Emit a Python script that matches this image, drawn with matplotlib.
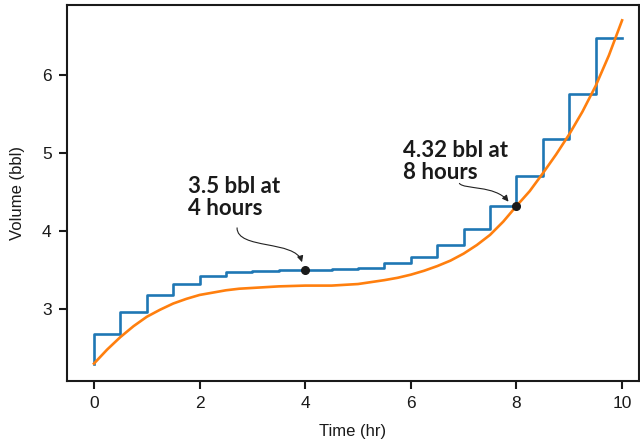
import numpy as np
import matplotlib.pyplot as plt
from matplotlib.patches import FancyArrowPatch
from matplotlib.path import Path

plt.rcParams['font.family'] = ['Liberation Sans', 'DejaVu Sans']

# orange curve
t_curve = [0, 0.25, 0.5, 0.75, 1.0, 1.25, 1.5, 1.75, 2.0, 2.25, 2.5, 2.75, 3.0, 3.5,
           4.0, 4.5, 5.0, 5.5, 5.75, 6.0, 6.25, 6.5, 6.75, 7.0, 7.25, 7.5, 7.75, 8.0,
           8.25, 8.5, 8.75, 9.0, 9.25, 9.5, 9.75, 10.0]
v_curve = [2.30, 2.48, 2.64, 2.78, 2.90, 2.99, 3.07, 3.13, 3.18, 3.21, 3.24, 3.26, 3.27, 3.29,
           3.30, 3.30, 3.32, 3.37, 3.40, 3.44, 3.49, 3.55, 3.62, 3.71, 3.82, 3.95, 4.12, 4.32,
           4.51, 4.74, 4.98, 5.24, 5.53, 5.86, 6.25, 6.70]

# blue steps (value held from each time until the next)
t_step = [0, 0, 0.5, 1.0, 1.5, 2.0, 2.5, 3.0, 3.5, 4.0, 4.5, 5.0, 5.5, 6.0, 6.5,
          7.0, 7.5, 8.0, 8.5, 9.0, 9.5, 10.0]
v_step = [2.30, 2.68, 2.96, 3.18, 3.32, 3.42, 3.47, 3.49, 3.50, 3.50, 3.51, 3.52, 3.59, 3.67, 3.82,
          4.03, 4.32, 4.70, 5.18, 5.76, 6.47, 6.47]

pts_t = [4, 8]
pts_v = [3.5, 4.32]
notes = ["3.5 bbl at\n4 hours", "4.32 bbl at\n8 hours"]

fig = plt.figure(figsize=(6.4, 4.45), dpi=100)
ax = fig.add_axes([0.1047, 0.1438, 0.8937, 0.845])

ax.plot(t_step, v_step, drawstyle='steps-post', color='#1f77b4', lw=1.9, zorder=2)
ax.plot(t_curve, v_curve, color='#ff7f0e', lw=1.9, zorder=3)
ax.plot(pts_t, pts_v, 'o', color='#1a1a1a', ms=5.5, zorder=5)

ax.set_xlim(-0.51, 10.32)
ax.set_ylim(2.077, 6.897)
ax.set_xticks([0, 2, 4, 6, 8, 10])
ax.set_yticks([3, 4, 5, 6])
for s in ax.spines.values():
    s.set_linewidth(1.5)
    s.set_color('#1a1a1a')
ax.tick_params(direction='out', length=6, width=1.5, labelsize=12.5, colors='#1a1a1a', pad=5)
ax.set_xlabel("Time (hr)", fontsize=12, color='#1a1a1a', labelpad=9)
ax.set_ylabel("Volume (bbl)", fontsize=12, color='#1a1a1a', labelpad=12)

# notes
ax.text(1.78, 4.70, notes[0], fontsize=16, fontweight='bold', family=['Lato', 'DejaVu Sans'],
        color='#1a1a1a', va='top', ha='left', linespacing=1.05)
ax.text(5.85, 5.17, notes[1], fontsize=16, fontweight='bold', family=['Lato', 'DejaVu Sans'],
        color='#1a1a1a', va='top', ha='left', linespacing=1.05)

codes = [Path.MOVETO, Path.CURVE4, Path.CURVE4, Path.CURVE4]
arrow1 = Path([(2.71, 4.04), (2.71, 3.76), (3.81, 3.885), (3.94, 3.60)], codes)
arrow2 = Path([(6.92, 4.61), (7.01, 4.53), (7.59, 4.59), (7.85, 4.376)], codes)
for p in [arrow1, arrow2]:
    ax.add_patch(FancyArrowPatch(path=p, arrowstyle='-|>', mutation_scale=9,
                                 lw=0.8, color='#222222', zorder=4))

fig.savefig('out.png', dpi=100)
